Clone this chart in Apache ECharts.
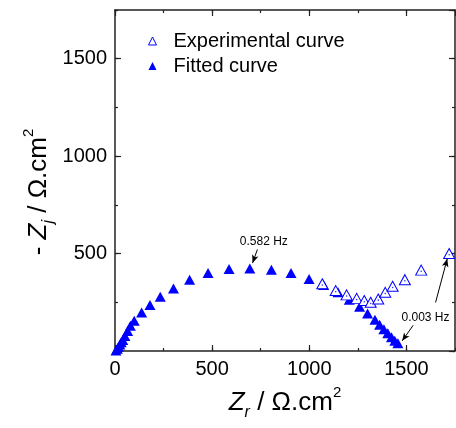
<!DOCTYPE html>
<html>
<head>
<meta charset="utf-8">
<script src="https://cdn.jsdelivr.net/npm/echarts@6/dist/echarts.min.js"></script>
<style>html,body{margin:0;padding:0;background:#fff}#c{width:456px;height:428px}</style>
</head>
<body>
<div id="c"></div>
<script>
// Fitted curve (filled triangles)
const fitZr = [5,12,18,25,32,40,51,65,79,99,137,180,233,301,384,479,587,694,805,906,999,1074,1148,1206,1259,1300,1338,1362,1384,1404,1423,1440,1456];
const fitZj = [2,12,22,33,45,57,77,103,129,155,197,236,278,321,366,400,421,424,417,400,369,339,301,263,227,192,160,135,112,91,70,53,40];
// Experimental curve (open triangles), visible part
const expZr = [1067,1136,1192,1244,1283,1316,1355,1391,1429,1492,1576,1720];
const expZj = [345,310,288,270,259,250,267,301,332,366,415,500];
// Axis ticks
const xTicks = [0,500,1000,1500];
const yTicks = [500,1000,1500];
const axisMax = 1750;

const FONT = 'Liberation Sans, Arial, sans-serif';
const BLUE = '#0000ff';
const AX = '#222';

const toPairs = (xs, ys) => xs.map((x, i) => [x, ys[i]]);

function axis(type, pos, interval, len, showLabel, showLine) {
  const a = {
    type: 'value', position: pos, min: 0, max: axisMax, interval: interval,
    axisLine: {show: showLine, onZero: false, lineStyle: {color: AX, width: 1.5}},
    axisTick: {show: true, inside: true, length: len, lineStyle: {color: AX, width: 1.2}},
    splitLine: {show: false},
    axisLabel: {show: false}
  };
  if (showLabel) {
    const ticks = type === 'x' ? xTicks : yTicks;
    a.axisLabel = {
      show: true, fontSize: 20, fontFamily: FONT, color: '#000', margin: 8,
      showMinLabel: type === 'x', showMaxLabel: false,
      formatter: v => ticks.indexOf(v) >= 0 ? String(v) : ''
    };
  }
  return a;
}

const chart = echarts.init(document.getElementById('c'), null, {renderer: 'canvas'});
chart.setOption({
  animation: false,
  backgroundColor: '#fff',
  grid: {left: 115, right: 1, top: 10, bottom: 77, containLabel: false},
  xAxis: [
    axis('x', 'bottom', 500, 6, true, true),
    axis('x', 'bottom', 250, 3, false, false),
    axis('x', 'top', 500, 6, false, true),
    axis('x', 'top', 250, 3, false, false)
  ],
  yAxis: [
    axis('y', 'left', 500, 6, true, true),
    axis('y', 'left', 250, 3, false, false),
    axis('y', 'right', 500, 6, false, true),
    axis('y', 'right', 250, 3, false, false)
  ],
  legend: {
    orient: 'vertical', left: 143, top: 26, itemWidth: 8, itemHeight: 8, itemGap: 5,
    textStyle: {fontSize: 20, fontFamily: FONT, color: '#000', padding: [0, 0, 0, 12]},
    data: [
      {name: 'Experimental curve', icon: 'triangle', itemStyle: {color: '#fff', borderColor: BLUE, borderWidth: 1}},
      {name: 'Fitted curve', icon: 'triangle'}
    ]
  },
  series: [
    {
      name: 'Fitted curve', type: 'scatter', symbol: 'triangle', symbolSize: [11, 10],
      itemStyle: {color: BLUE, opacity: 1}, z: 2,
      data: toPairs(fitZr, fitZj),
      markLine: {
        silent: true, symbol: ['none', 'arrow'], symbolSize: [5, 8],
        label: {show: false},
        lineStyle: {color: '#000', width: 1, type: 'solid'},
        data: [
          [{coord: [733, 521]}, {coord: [708, 452]}],
          [{coord: [1650, 249]}, {coord: [1710, 473]}],
          [{coord: [1535, 132]}, {coord: [1478, 52]}]
        ]
      }
    },
    {
      name: 'Experimental curve', type: 'scatter', symbol: 'triangle', symbolSize: [11, 10],
      itemStyle: {color: '#fff', borderColor: BLUE, borderWidth: 1, opacity: 1}, z: 3,
      data: toPairs(expZr, expZj)
    },
    {
      name: 'expDots', type: 'scatter', symbol: 'circle', symbolSize: 1.6, silent: true,
      itemStyle: {color: BLUE}, z: 4,
      data: toPairs(expZr, expZj).map(p => [p[0], p[1] - 6])
    }
  ]
});

const p1 = chart.convertToPixel({xAxisIndex: 0, yAxisIndex: 0}, [766, 562]);
const p2 = chart.convertToPixel({xAxisIndex: 0, yAxisIndex: 0}, [1598, 170]);
chart.setOption({
  graphic: [
    {type: 'text', x: p1[0], y: p1[1], style: {text: '0.582 Hz', font: '12px ' + FONT, fill: '#000', align: 'center', verticalAlign: 'middle'}},
    {type: 'text', x: p2[0], y: p2[1], style: {text: '0.003 Hz', font: '12px ' + FONT, fill: '#000', align: 'center', verticalAlign: 'middle'}},
    {type: 'text', x: 285, y: 403, style: {
      text: '{a|Z}{b|r}{c| / Ω.cm}{d|2}', align: 'center', verticalAlign: 'middle',
      rich: {
        a: {fontSize: 26, fontStyle: 'italic', fontFamily: FONT, fill: '#000', lineHeight: 36, verticalAlign: 'middle'},
        b: {fontSize: 16, fontStyle: 'italic', fontFamily: FONT, fill: '#000', lineHeight: 16, verticalAlign: 'bottom'},
        c: {fontSize: 26, fontFamily: FONT, fill: '#000', lineHeight: 36, verticalAlign: 'middle'},
        d: {fontSize: 15, fontFamily: FONT, fill: '#000', lineHeight: 15, verticalAlign: 'top'}
      }
    }},
    {type: 'text', x: 39, y: 192, rotation: Math.PI / 2, style: {
      text: '{c|- }{a|Z}{b|j}{c| / Ω.cm}{d|2}', align: 'center', verticalAlign: 'middle',
      rich: {
        a: {fontSize: 26, fontStyle: 'italic', fontFamily: FONT, fill: '#000', lineHeight: 36, verticalAlign: 'middle'},
        b: {fontSize: 16, fontStyle: 'italic', fontFamily: FONT, fill: '#000', lineHeight: 16, verticalAlign: 'bottom'},
        c: {fontSize: 26, fontFamily: FONT, fill: '#000', lineHeight: 36, verticalAlign: 'middle'},
        d: {fontSize: 15, fontFamily: FONT, fill: '#000', lineHeight: 15, verticalAlign: 'top'}
      }
    }}
  ]
});
</script>
</body>
</html>
